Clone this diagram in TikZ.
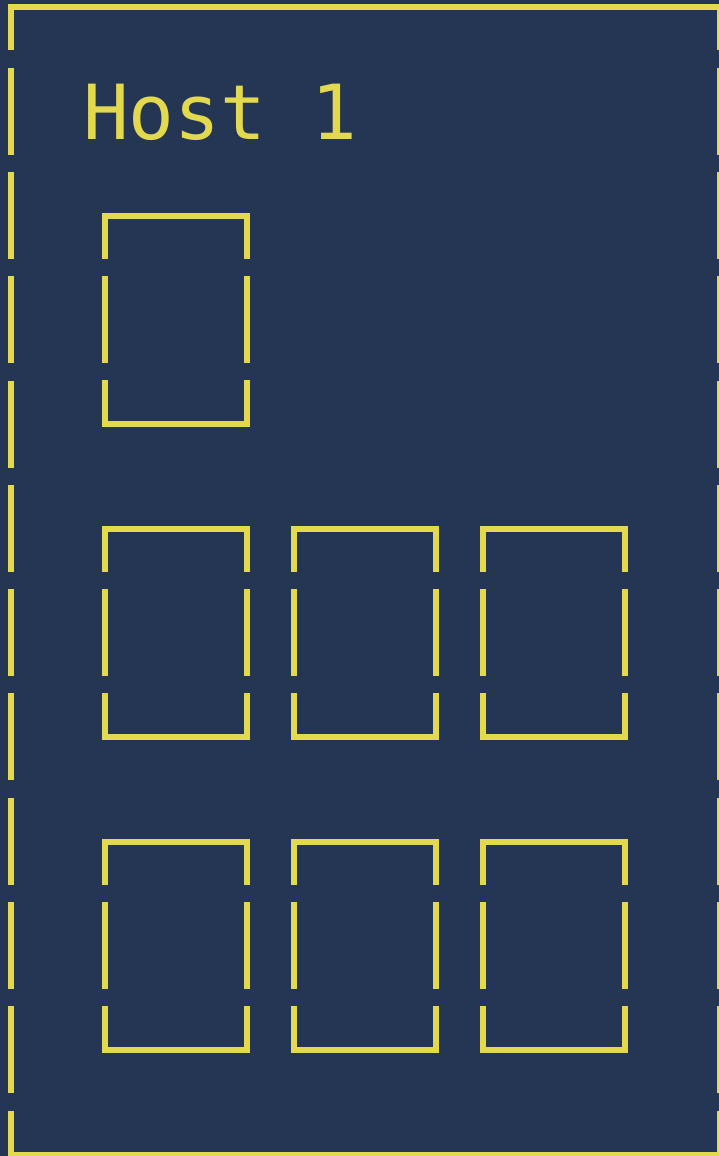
\documentclass[tikz,border=0pt]{standalone}
\usepackage{fontspec}
\newfontfamily\hostfont{DejaVu Sans Mono}
\definecolor{bg}{HTML}{253554}
\definecolor{ylw}{HTML}{E3D94F}
\tikzset{
  hline/.style={draw=ylw, line width=6pt, line cap=rect},
  vline/.style={draw=ylw, line width=6pt, line cap=butt, dash pattern=on 87pt off 17pt, dash phase=44pt},
  framev/.style={draw=ylw, line width=6pt, line cap=butt, dash pattern=on 87pt off 17.3pt, dash phase=44pt},
  title/.style={text=ylw, font=\hostfont\fontsize{76}{80}\selectfont, inner sep=0pt, anchor=base west},
  slot/.pic={
    \coordinate (-tl) at (0,0);
    \coordinate (-tr) at (142,0);
    \coordinate (-bl) at (0,208);
    \coordinate (-br) at (142,208);
    \draw[hline] (-tl) -- (-tr);
    \draw[hline] (-bl) -- (-br);
    \draw[vline] (-tl) -- (-bl);
    \draw[vline] (-tr) -- (-br);
  }
}
\begin{document}
\begin{tikzpicture}[x=1pt, y=-1pt]
  \useasboundingbox (0,0) rectangle (719,1156);
  \clip (0,0) rectangle (719,1156);
  \fill[bg] (0,0) rectangle (719,1156);
  % outer frame
  \coordinate (ftl) at (11,7.3);
  \coordinate (ftr) at (719.7,7.3);
  \coordinate (fbl) at (11,1155);
  \coordinate (fbr) at (719.7,1155);
  \draw[hline] (ftl) -- (ftr);
  \draw[hline] (fbl) -- (fbr);
  \draw[framev] (ftl) -- (fbl);
  \draw[framev] (ftr) -- (fbr);
  \node[title] (host) at (83,139) {Host 1};
  % slots
  \pic (s0) at (105,216) {slot};
  \pic (s1) at (105,529) {slot};
  \pic (s2) at (294,529) {slot};
  \pic (s3) at (483,529) {slot};
  \pic (s4) at (105,842) {slot};
  \pic (s5) at (294,842) {slot};
  \pic (s6) at (483,842) {slot};
\end{tikzpicture}
\end{document}
